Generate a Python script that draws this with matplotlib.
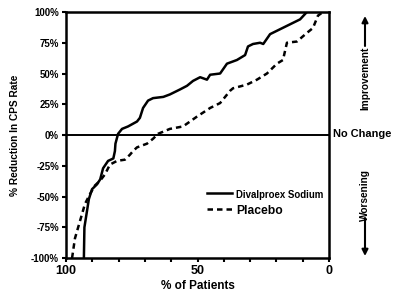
import matplotlib
matplotlib.use("Agg")
import matplotlib.pyplot as plt
from matplotlib import font_manager

# % of patients (x) vs % reduction in CPS rate (y)
dival_x = [93.2, 93.0, 91.3, 90.1, 88.2, 87.0, 85.9, 84.0, 82.0, 81.4, 81.2, 80.2, 78.7,
           76.4, 73.0, 71.9, 70.7, 68.8, 66.9, 63.0, 60.5, 56.7, 54.0, 51.7, 49.0,
           46.4, 45.2, 41.4, 38.8, 35.0, 31.9, 30.8, 28.9, 26.2, 25.0, 22.4, 18.6,
           14.8, 11.0, 8.4]
dival_y = [-100, -75, -52, -44, -40, -36, -27, -21, -19, -13, -7, 1, 5,
           7, 11, 14, 22, 28, 30, 31, 33, 37, 40, 44, 47,
           45, 49, 50, 58, 61, 65, 72, 74, 75, 74, 82, 86,
           90, 94, 100]

placebo_x = [97.7, 96.6, 94.7, 92.8, 90.9, 89.0, 87.0, 85.2, 83.3, 80.6, 77.6, 75.7,
             74.5, 73.0, 69.2, 66.9, 65.0, 60.5, 55.5, 50.2, 45.2, 41.4, 37.6, 36.5,
             31.2, 27.4, 23.6, 19.8, 17.5, 16.0, 12.2, 8.4, 6.1, 4.2, 2.3]
placebo_y = [-100, -84, -70, -56, -48, -41, -37, -32, -24, -21, -20, -16,
             -13, -10, -7, -3, 1, 5, 7, 15, 22, 26, 36, 38,
             41, 45, 50, 58, 61, 75, 76, 83, 87, 97, 100]

y_ticks = [-100, -75, -50, -25, 0, 25, 50, 75, 100]
x_ticks = list(range(0, 101, 10))
x_labels = {0: "0", 50: "50", 100: "100"}

names = {f.name for f in font_manager.fontManager.ttflist}
fam = "Liberation Sans Narrow" if "Liberation Sans Narrow" in names else "Liberation Sans"
plt.rcParams["font.family"] = [fam, "DejaVu Sans"]
plt.rcParams["font.weight"] = "bold"

fig = plt.figure(figsize=(4, 2.96), dpi=100)
ax = fig.add_axes([0.165, 0.128, 0.6575, 0.8315])

ax.plot(dival_x, dival_y, color="black", lw=1.8, label="Divalproex Sodium")
ax.plot(placebo_x, placebo_y, color="black", lw=1.8, ls=(0, (2.2, 1.6)), label="Placebo")
ax.axhline(0, color="black", lw=1.4)

ax.set_xlim(100, 0)
ax.set_ylim(-100, 100)
ax.set_xticks(x_ticks)
ax.set_xticklabels([x_labels.get(t, "") for t in x_ticks], fontsize=9, fontweight="bold")
ax.set_yticks(y_ticks)
ax.set_yticklabels([f"{t}%" for t in y_ticks], fontsize=7, fontweight="bold")
ax.tick_params(length=3, width=1.5, pad=2)
for s in ax.spines.values():
    s.set_linewidth(1.8)

ax.set_xlabel("% of Patients", fontsize=8.5, fontweight="bold", labelpad=2)
ax.set_ylabel("% Reduction In CPS Rate", fontsize=7.3, fontweight="bold", labelpad=8)

leg = ax.legend(loc="center left", bbox_to_anchor=(0.51, 0.225), frameon=False,
                handlelength=1.8, handletextpad=0.3, labelspacing=0.3, borderpad=0)
leg.get_texts()[0].set_fontsize(6.9)
leg.get_texts()[1].set_fontsize(8.7)

fig.text(333 / 400, 0.547, "No Change", fontsize=7.9, fontweight="bold", ha="left", va="center")
fig.text(365 / 400, 0.735, "Improvement", fontsize=7.3, fontweight="bold", rotation=90,
         ha="center", va="center")
fig.text(365 / 400, 0.341, "Worsening", fontsize=7.3, fontweight="bold", rotation=90,
         ha="center", va="center")
ax.annotate("", xy=(365, 296 - 16), xytext=(365, 296 - 46), xycoords="figure pixels",
            arrowprops=dict(arrowstyle="-|>", color="black", lw=1.5, mutation_scale=9,
                            shrinkA=0, shrinkB=0))
ax.annotate("", xy=(365, 296 - 256), xytext=(365, 296 - 218), xycoords="figure pixels",
            arrowprops=dict(arrowstyle="-|>", color="black", lw=1.5, mutation_scale=9,
                            shrinkA=0, shrinkB=0))

fig.savefig("out.png", dpi=100)
